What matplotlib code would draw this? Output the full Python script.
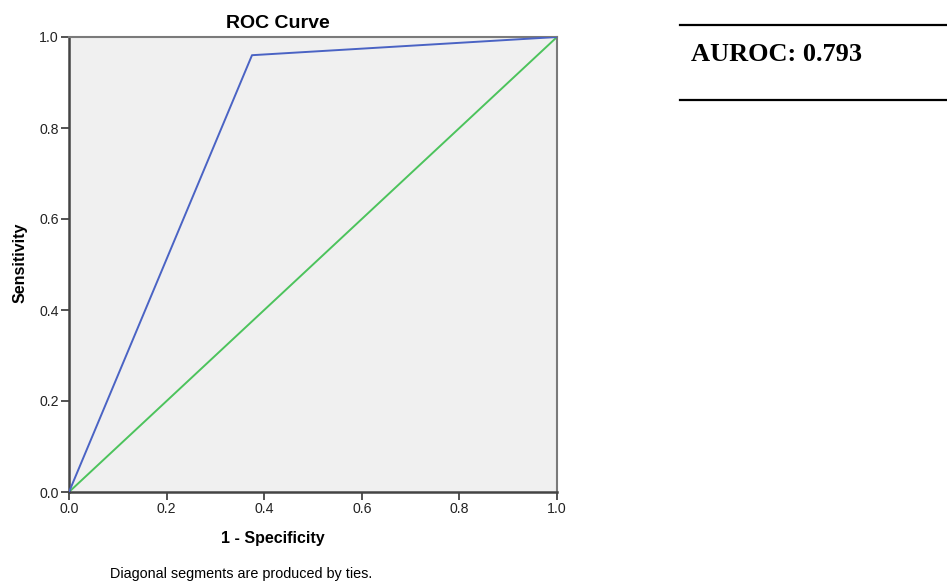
import matplotlib
matplotlib.use("Agg")
import matplotlib.pyplot as plt

# ROC points
fpr = [0.0, 0.375, 1.0]
tpr = [0.0, 0.96, 1.0]
ref_x = [0.0, 1.0]
ref_y = [0.0, 1.0]
ticks = [0.0, 0.2, 0.4, 0.6, 0.8, 1.0]
tick_labels = ["0.0", "0.2", "0.4", "0.6", "0.8", "1.0"]
auroc = 0.793

plt.rcParams['font.family'] = ['Liberation Sans', 'DejaVu Sans']

fig = plt.figure(figsize=(9.47, 5.82), dpi=100)
W, H = 947, 582

# axes box in pixels: x 69..557, y 37..492
ax = fig.add_axes([69 / W, 1 - 492 / H, (557 - 69) / W, (492 - 37) / H])
ax.set_facecolor('#f0f0f0')

ax.plot(ref_x, ref_y, color='#4cc35c', lw=1.4, zorder=2)
ax.plot(fpr, tpr, color='#4a63c4', lw=1.4, zorder=3)

ax.set_xlim(0, 1)
ax.set_ylim(0, 1)
ax.set_xticks(ticks)
ax.set_xticklabels(tick_labels)
ax.set_yticks(ticks)
ax.set_yticklabels(tick_labels)
ax.tick_params(direction='out', length=6, width=1.3, color='#444444',
               labelsize=10.2, labelcolor='#222222', pad=1.5)

for side in ['left', 'bottom']:
    ax.spines[side].set_color('#444444')
    ax.spines[side].set_linewidth(1.8)
for side in ['top', 'right']:
    ax.spines[side].set_color('#7a7a7a')
    ax.spines[side].set_linewidth(1.5)

# texts placed like the SPSS output
fig.text(278 / W, 1 - 28 / H, "ROC Curve", ha='center', va='baseline',
         fontsize=14, fontweight='bold')
fig.text(273 / W, 1 - 543 / H, "1 - Specificity", ha='center', va='baseline',
         fontsize=11.5, fontweight='bold')
fig.text(20 / W, 1 - 263 / H, "Sensitivity", ha='center', va='center',
         rotation=90, fontsize=11.5, fontweight='bold')
fig.text(241 / W, 1 - 578 / H, "Diagonal segments are produced by ties.",
         ha='center', va='baseline', fontsize=10.4)

# AUROC box on the right
fig.add_artist(plt.Line2D([680 / W, 1.0], [1 - 25 / H, 1 - 25 / H],
                          color='black', lw=1.6, transform=fig.transFigure))
fig.add_artist(plt.Line2D([680 / W, 1.0], [1 - 100 / H, 1 - 100 / H],
                          color='black', lw=1.6, transform=fig.transFigure))
fig.text(691 / W, 1 - 61 / H, "AUROC: %.3f" % auroc, ha='left', va='baseline',
         fontsize=19, fontweight='bold', family=['Liberation Serif', 'DejaVu Serif'])

fig.savefig('out.png', dpi=100)
